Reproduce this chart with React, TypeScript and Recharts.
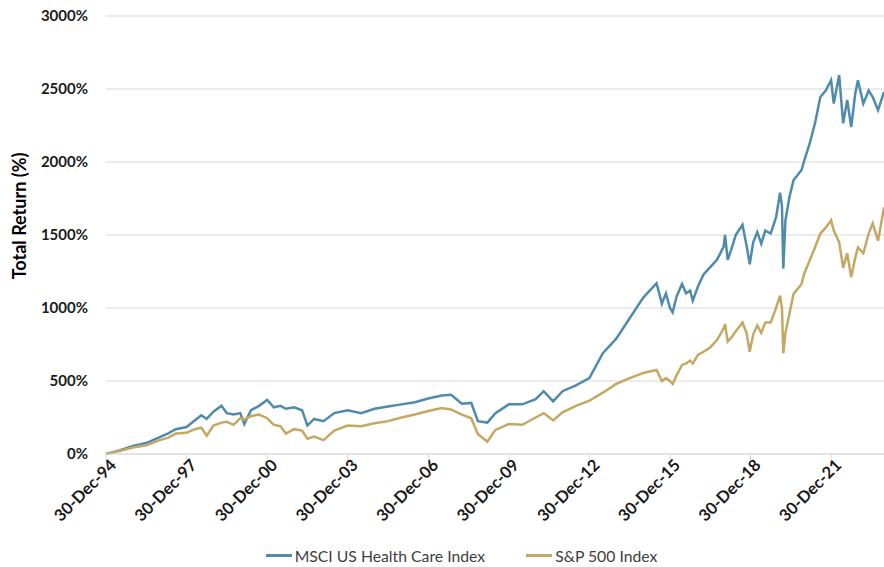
import { LineChart, Line, XAxis, YAxis, CartesianGrid, Legend } from 'recharts';

// decimal years (30-Dec-94 = 1995.0)
const dates = [
  1995.0, 1995.5, 1996.0, 1996.5, 1997.0, 1997.3, 1997.6, 1998.0, 1998.3, 1998.55,
  1998.75, 1999.0, 1999.3, 1999.5, 1999.75, 2000.0, 2000.15, 2000.4, 2000.7, 2001.0,
  2001.25, 2001.5, 2001.7, 2002.0, 2002.3, 2002.5, 2002.75, 2003.1, 2003.5, 2004.0,
  2004.5, 2005.0, 2005.5, 2006.0, 2006.5, 2007.0, 2007.5, 2007.85, 2008.25, 2008.6,
  2008.85, 2009.2, 2009.5, 2010.0, 2010.5, 2011.0, 2011.3, 2011.65, 2012.0, 2012.5,
  2013.0, 2013.5, 2014.0, 2014.5, 2015.0, 2015.5, 2015.7, 2015.85, 2016.0, 2016.1,
  2016.25, 2016.45, 2016.6, 2016.75, 2016.85, 2017.05, 2017.25, 2017.5, 2017.75, 2018.0,
  2018.05, 2018.15, 2018.3, 2018.45, 2018.7, 2018.85, 2018.97, 2019.1, 2019.25, 2019.4,
  2019.55, 2019.75, 2019.95, 2020.1, 2020.17, 2020.22, 2020.3, 2020.45, 2020.6, 2020.9,
  2021.0, 2021.2, 2021.4, 2021.6, 2021.8, 2022.0, 2022.1, 2022.3, 2022.45, 2022.6,
  2022.75, 2022.9, 2023.0, 2023.2, 2023.4, 2023.55, 2023.75, 2023.97,
];

const healthCare = [
  0, 25, 55, 75, 115, 140, 170, 185, 230, 265,
  240, 290, 330, 280, 270, 280, 205, 300, 330, 370,
  320, 330, 310, 320, 300, 195, 240, 225, 280, 300,
  280, 310, 325, 340, 355, 380, 400, 405, 345, 350,
  225, 215, 280, 340, 340, 375, 430, 360, 430, 470,
  520, 690, 790, 930, 1070, 1170, 1030, 1100, 1000, 970,
  1080, 1165, 1100, 1120, 1050, 1150, 1230, 1280, 1330, 1420,
  1500, 1330, 1410, 1500, 1570, 1430, 1300, 1450, 1520, 1440,
  1530, 1510, 1620, 1790, 1700, 1270, 1600, 1760, 1875, 1945,
  2010, 2125, 2265, 2445, 2490, 2560, 2400, 2595, 2265, 2425,
  2240, 2470, 2560, 2400, 2490, 2445, 2355, 2480,
];

const sp500 = [
  0, 20, 45, 60, 95, 110, 140, 145, 170, 180,
  125, 195, 215, 220, 200, 245, 235, 260, 270, 245,
  200, 190, 140, 170, 160, 105, 120, 95, 160, 195,
  190, 210, 225, 250, 270, 295, 315, 305, 270, 245,
  135, 85, 165, 205, 200, 250, 280, 230, 285, 330,
  365, 420, 480, 520, 555, 575, 500, 520, 500, 480,
  540, 610, 620, 640, 620, 680, 700, 730, 780, 860,
  890, 770, 800, 840, 900, 830, 700, 820, 880, 830,
  900, 900, 1000, 1085, 1000, 690, 830, 960, 1095, 1165,
  1235, 1325, 1415, 1510, 1550, 1600, 1530, 1450, 1275, 1375,
  1210, 1345, 1415, 1375, 1510, 1580, 1460, 1690,
];

const xTicks = [1995, 1998, 2001, 2004, 2007, 2010, 2013, 2016, 2019, 2022];
const xTickLabels = ['30-Dec-94', '30-Dec-97', '30-Dec-00', '30-Dec-03', '30-Dec-06', '30-Dec-09', '30-Dec-12', '30-Dec-15', '30-Dec-18', '30-Dec-21'];
const yTicks = [0, 500, 1000, 1500, 2000, 2500, 3000];

const series = [
  { key: 'hc', name: 'MSCI US Health Care Index', color: '#4E8BAD' },
  { key: 'sp', name: 'S&P 500 Index', color: '#C4A864' },
];

const data = dates.map((d, i) => ({ date: d, hc: healthCare[i], sp: sp500[i] }));

const FONT = 'Lato, "Open Sans", sans-serif';

const XTick = (props: any) => {
  const { x, y, payload } = props;
  const label = xTickLabels[xTicks.indexOf(payload.value)] ?? '';
  return (
    <g transform={`translate(${x},${y})`}>
      <text x={0} y={0} dx={5} dy={11} textAnchor="end" transform="rotate(-45)"
        fontFamily={FONT} fontWeight={700} fontSize={16.5} fill="#1a1a1a">
        {label}
      </text>
    </g>
  );
};

const LegendContent = () => (
  <div style={{ display: 'flex', justifyContent: 'center', gap: 41, paddingLeft: 39, fontFamily: FONT, fontSize: 15.75, color: '#404040' }}>
    {series.map((s) => (
      <div key={s.key} style={{ display: 'flex', alignItems: 'center' }}>
        <span style={{ display: 'inline-block', width: 26, height: 3, background: s.color, marginRight: 3 }} />
        <span>{s.name}</span>
      </div>
    ))}
  </div>
);

export default function App() {
  return (
    <div style={{ position: 'fixed', left: 0, top: 0, width: 884, height: 567, background: '#fff' }}>
      <LineChart width={884} height={567} data={data} margin={{ top: 16, right: 0, left: 0, bottom: 2 }}>
        <CartesianGrid vertical={false} stroke="#d9d9d9" />
        <XAxis
          dataKey="date"
          type="number"
          domain={[1995, 2023.97]}
          ticks={xTicks}
          interval={0}
          height={92}
          stroke="#d9d9d9"
          tickSize={6}
          tick={<XTick />}
        />
        <YAxis
          domain={[0, 3000]}
          ticks={yTicks}
          width={106}
          axisLine={false}
          tickLine={false}
          tickSize={0}
          tickMargin={18}
          tickFormatter={(v) => `${v}%`}
          tick={{ fontFamily: FONT, fontWeight: 700, fontSize: 15, fill: '#1a1a1a' }}
          label={{ value: 'Total Return (%)', angle: -90, position: 'center', dx: -33, dy: -19,
            style: { fontFamily: FONT, fontWeight: 700, fontSize: 18, fill: '#000', textAnchor: 'middle' } }}
        />
        <Legend verticalAlign="bottom" content={<LegendContent />} />
        {series.map((s) => (
          <Line key={s.key} type="linear" dataKey={s.key} name={s.name} stroke={s.color}
            strokeWidth={2.5} dot={false} isAnimationActive={false} />
        ))}
      </LineChart>
    </div>
  );
}
